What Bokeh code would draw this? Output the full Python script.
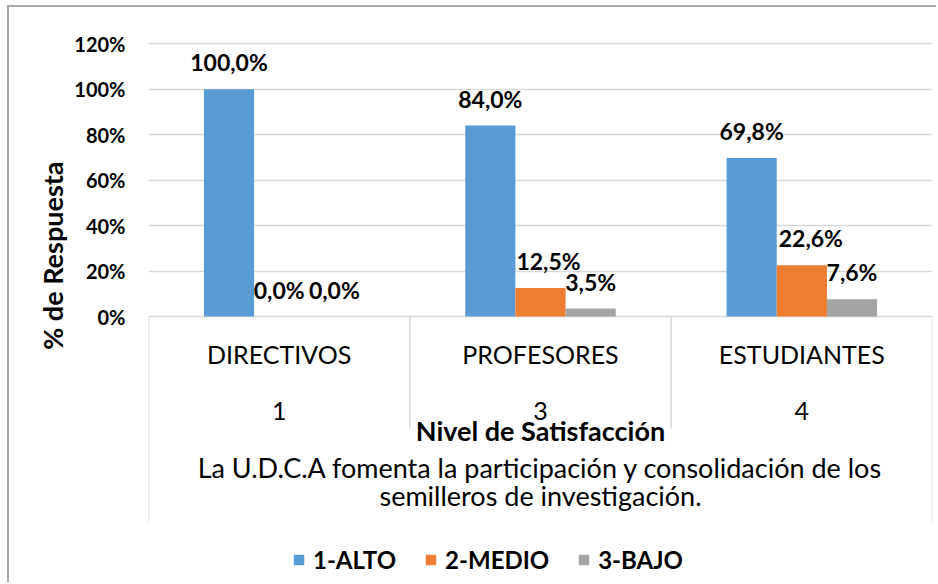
from bokeh.plotting import figure
from bokeh.models import (ColumnDataSource, FactorRange, Range1d, FixedTicker,
                          NumeralTickFormatter, Legend, LegendItem, Title)
from bokeh.transform import dodge
from bokeh.core.properties import value
from bokeh.embed import file_html
from bokeh.resources import INLINE

# ---------------- data ----------------
categories = ["DIRECTIVOS", "PROFESORES", "ESTUDIANTES"]
sublevels = ["1", "3", "4"]
series_names = ["1-ALTO", "2-MEDIO", "3-BAJO"]
alto = [1.000, 0.840, 0.698]
medio = [0.000, 0.125, 0.226]
bajo = [0.000, 0.035, 0.076]
y_ticks = [0.0, 0.2, 0.4, 0.6, 0.8, 1.0, 1.2]
y_title = "% de Respuesta"
x_title = "Nivel de Satisfacción"
question_lines = ["La U.D.C.A fomenta la participación y consolidación de los",
                  "semilleros de investigación."]

# ---------------- layout / style ----------------
PAGE_LEFT, PAGE_TOP = 9, 7   # page position of the canvas (after margin + border)
W, H = 938 - PAGE_LEFT, 584 - PAGE_TOP
FRAME_LEFT_PAGE, FRAME_RIGHT_PAGE = 148, 932
BASE_PAGE = 316        # page y of the 0% line
PX_PER_UNIT = 227.25   # pixels per 100%


def y_at(page_y):
    return (BASE_PAGE - page_y) / PX_PER_UNIT


colors = ["#5B9BD5", "#ED7D31", "#A5A5A5"]
offsets = [-0.192, 0.0, 0.192]
bar_w = 0.192
nudges = [[0, 0, 0], [0, 8, 9], [5, 0, 0]]
FONT = "Lato"
TXT = "#000000"
GRID = "#d9d9d9"


def fmt(v):
    return ("%.1f%%" % (v * 100)).replace(".", ",")


series = [alto, medio, bajo]
data = dict(cat=categories, sub=sublevels)
for i, s in enumerate(series):
    data["v%d" % i] = s
    data["l%d" % i] = [fmt(v) for v in s]
    data["n%d" % i] = nudges[i]
src = ColumnDataSource(data)

p = figure(width=W, height=H,
           x_range=FactorRange(factors=categories, range_padding=0, factor_padding=0),
           y_range=Range1d(y_at(PAGE_TOP + H), y_at(PAGE_TOP)),
           output_backend="svg", toolbar_location=None, x_axis_location=None,
           min_border_left=FRAME_LEFT_PAGE - PAGE_LEFT,
           min_border_right=PAGE_LEFT + W - FRAME_RIGHT_PAGE,
           min_border_top=0, min_border_bottom=0)
p.styles = {"margin-left": "7px", "margin-top": "5px",
            "border-left": "2px solid #a6a6a6", "border-top": "2px solid #a6a6a6"}
p.outline_line_color = None
p.background_fill_color = "white"
p.border_fill_color = "white"
p.xgrid.grid_line_color = None
p.ygrid.grid_line_color = GRID
p.ygrid.grid_line_width = 1.5

yax = p.yaxis[0]
yax.ticker = FixedTicker(ticks=y_ticks)
yax.formatter = NumeralTickFormatter(format="0%")
yax.axis_line_color = None
yax.major_tick_line_color = None
yax.minor_tick_line_color = None
yax.major_tick_out = 0
yax.major_tick_in = 0
yax.major_label_standoff = 23
yax.major_label_text_font = FONT
yax.major_label_text_font_style = "bold"
yax.major_label_text_font_size = "20px"
yax.major_label_text_color = TXT

# y-axis title, placed in the left panel outside the tick labels
p.add_layout(Title(text=y_title, align="right", offset=154,
                   vertical_align="middle", standoff=4,
                   text_font=FONT, text_font_style="bold", text_font_size="27px",
                   text_color=TXT), "left")

# category separators
sep_src = ColumnDataSource(dict(cat=categories,
                                y1=[y_at(522), y_at(428), y_at(428)]))
p.segment(x0=dodge("cat", -0.5, range=p.x_range), x1=dodge("cat", -0.5, range=p.x_range),
          y0=0, y1="y1", source=sep_src, line_color=GRID, line_width=1.5)
p.segment(x0=dodge("cat", 0.5, range=p.x_range), x1=dodge("cat", 0.5, range=p.x_range),
          y0=0, y1=y_at(522), source=ColumnDataSource(dict(cat=[categories[-1]])),
          line_color=GRID, line_width=1.5)

items = []
for i, name in enumerate(series_names):
    r = p.vbar(x=dodge("cat", offsets[i], range=p.x_range), top="v%d" % i, width=bar_w,
               source=src, fill_color=colors[i], line_color=None)
    items.append(LegendItem(label=name, renderers=[r]))
    p.text(x=dodge("cat", offsets[i], range=p.x_range), y="v%d" % i, text="l%d" % i,
           source=src, x_offset="n%d" % i, y_offset=-27,
           text_font=value(FONT), text_font_style="bold", text_font_size="23px",
           text_color=TXT, text_align="center", text_baseline="middle")

# multi-level category labels
p.text(x="cat", y=y_at(353), text="cat", source=src,
       text_font=value(FONT), text_font_size="25px", text_color=TXT,
       text_align="center", text_baseline="alphabetic")
p.text(x="cat", y=y_at(410), text="sub", source=src,
       text_font=value(FONT), text_font_size="25px", text_color=TXT,
       text_align="center", text_baseline="alphabetic")
p.text(x=[categories[1]], y=[y_at(430)], text=[x_title],
       text_font=value(FONT), text_font_style="bold", text_font_size="27px",
       text_color=TXT, text_align="center", text_baseline="alphabetic")
p.text(x=[categories[1]] * 2, y=[y_at(467), y_at(495)], text=question_lines,
       text_font=value(FONT), text_font_size="27px", text_color=TXT,
       text_align="center", text_baseline="alphabetic")

legend = Legend(items=items, orientation="horizontal",
                location=(292 - FRAME_LEFT_PAGE, 10))
legend.label_text_font = FONT
legend.label_text_font_style = "bold"
legend.label_text_font_size = "24px"
legend.label_text_color = TXT
legend.glyph_width = 13
legend.glyph_height = 13
legend.label_standoff = 8
legend.spacing = 28
legend.padding = 0
legend.margin = 0
legend.border_line_color = None
legend.background_fill_alpha = 0
p.add_layout(legend)

open("out.html", "w").write(file_html(p, INLINE))
